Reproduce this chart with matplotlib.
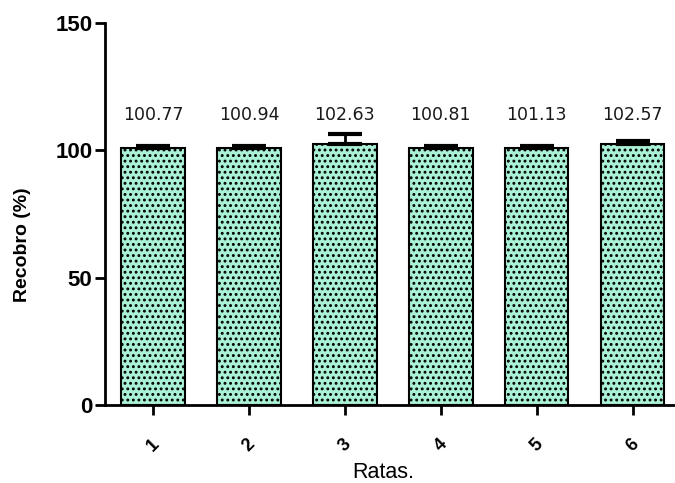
import matplotlib
matplotlib.use("Agg")
import matplotlib.pyplot as plt

ratas = ["1", "2", "3", "4", "5", "6"]
recobro = [100.77, 100.94, 102.63, 100.81, 101.13, 102.57]
sem = [1.0, 1.0, 4.0, 1.0, 0.6, 1.0]
etiquetas = ["100.77", "100.94", "102.63", "100.81", "101.13", "102.57"]

plt.rcParams['hatch.linewidth'] = 1.3
plt.rcParams['hatch.color'] = 'black'

fig = plt.figure(figsize=(6.75, 4.83), dpi=100)
ax = fig.add_axes([0.1556, 0.1615, 0.86, 0.7905])

x = range(1, len(ratas) + 1)
ax.bar(x, recobro, width=0.66, color='#aaf2d6', edgecolor='black',
       linewidth=1.5, hatch='...', zorder=2)
ax.errorbar(x, recobro, yerr=[[0] * len(sem), sem], fmt='none',
            ecolor='black', elinewidth=2, capsize=12.5, capthick=3, zorder=3)

for xi, lab in zip(x, etiquetas):
    ax.text(xi, 110.5, lab, ha='center', va='bottom', fontsize=12.5,
            family='DejaVu Sans', color='#1a1a1a')

ax.set_xlim(0.5, 6.55)
ax.set_ylim(0, 150)
ax.set_yticks([0, 50, 100, 150])
ax.set_xticks(list(x))
ax.set_xticklabels(ratas, rotation=45, fontsize=13, fontweight='bold',
                   family='Liberation Sans')
for lab in ax.get_yticklabels():
    lab.set_fontsize(16)
    lab.set_family('Liberation Sans')
    lab.set_fontweight('bold')

ax.spines['top'].set_visible(False)
ax.spines['right'].set_visible(False)
ax.spines['left'].set_linewidth(2)
ax.spines['bottom'].set_linewidth(2)
ax.tick_params(width=2, length=7, pad=2)
ax.tick_params(axis='x', pad=15)

ax.set_ylabel('Recobro (%)', fontsize=14, fontweight='bold',
              family='Liberation Sans')
ax.yaxis.set_label_coords(-0.128, 0.42)
ax.set_xlabel('Ratas.', fontsize=15.5, family='Liberation Sans')
ax.xaxis.set_label_coords(0.479, -0.148)

fig.savefig('out.png', dpi=100)
